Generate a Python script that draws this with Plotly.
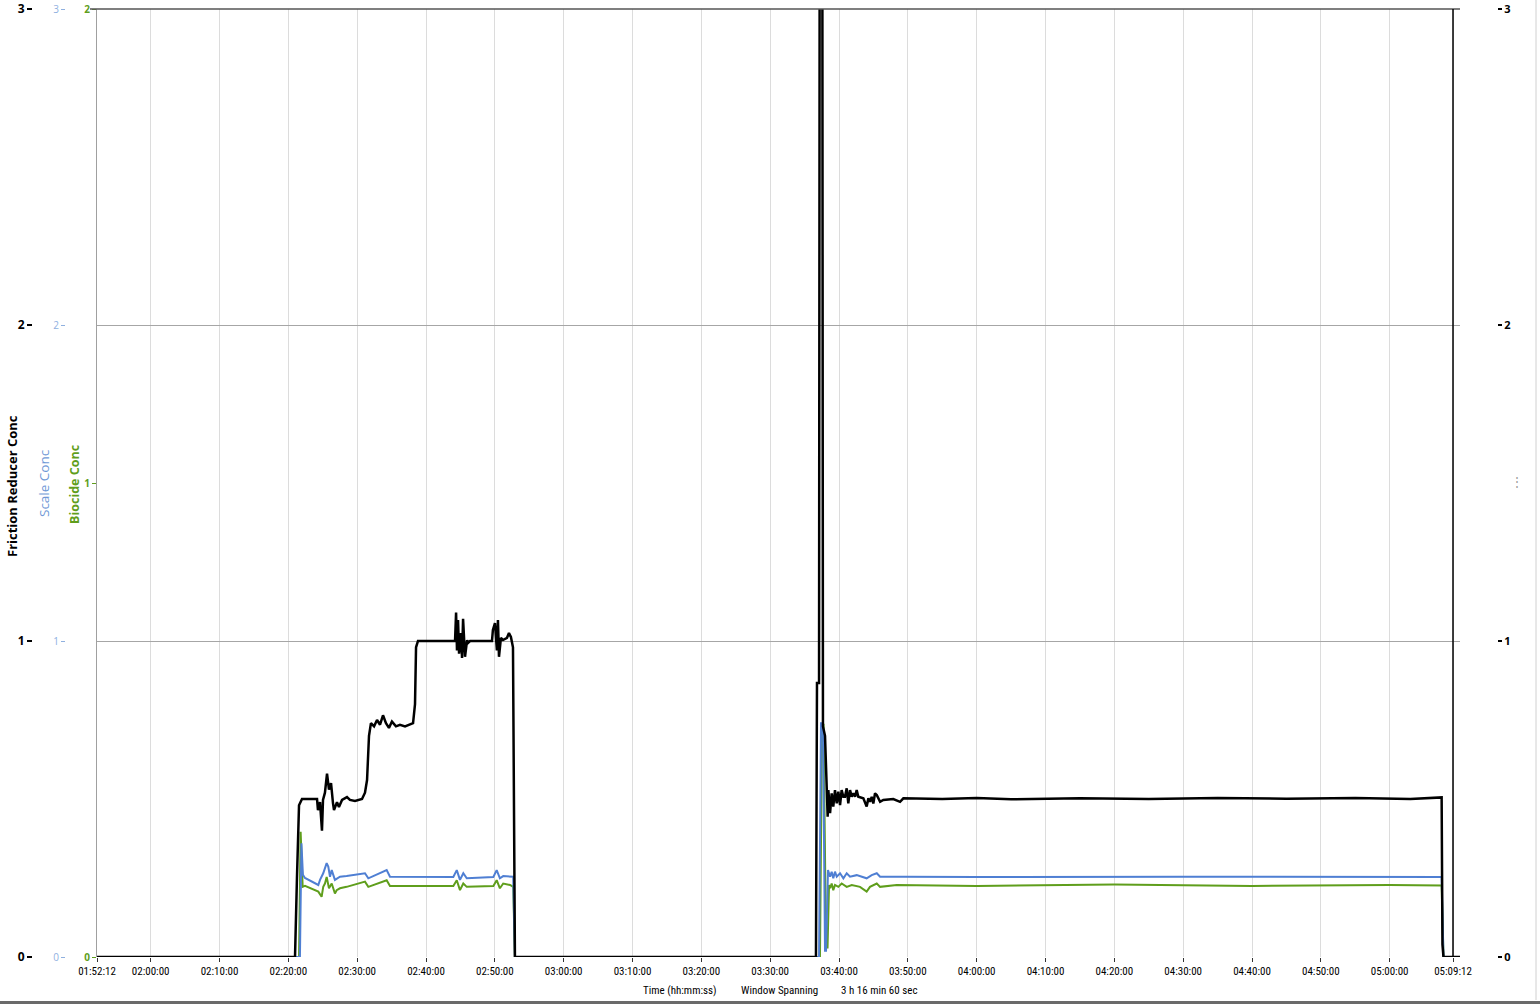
import plotly.graph_objects as go
import pandas as pd

# ---------------- data ----------------
DAY = "2000-01-01 "
start_time = "01:52:12"
end_time = "05:09:12"
frame_end = "05:10:13"

tick_times = ["01:52:12", "02:00:00", "02:10:00", "02:20:00", "02:30:00", "02:40:00",
              "02:50:00", "03:00:00", "03:10:00", "03:20:00", "03:30:00", "03:40:00",
              "03:50:00", "04:00:00", "04:10:00", "04:20:00", "04:30:00", "04:40:00",
              "04:50:00", "05:00:00", "05:09:12"]

fr_time = ["01:52:12", "02:20:58", "02:21:15", "02:21:33", "02:21:59", "02:24:10", "02:24:18",
           "02:24:36", "02:24:53", "02:25:02", "02:25:19", "02:25:37", "02:25:54", "02:26:12",
           "02:26:29", "02:26:38", "02:27:04", "02:27:21", "02:27:48", "02:28:31", "02:28:57",
           "02:29:41", "02:30:42", "02:31:08", "02:31:26", "02:31:34", "02:31:43", "02:32:00",
           "02:32:27", "02:32:53", "02:33:19", "02:33:45", "02:34:11", "02:34:37", "02:35:03",
           "02:35:38", "02:36:13", "02:36:57", "02:37:40", "02:38:07", "02:38:24", "02:38:33",
           "02:38:50", "02:44:13", "02:44:22", "02:44:30", "02:44:39", "02:44:48", "02:45:05",
           "02:45:14", "02:45:23", "02:45:40", "02:45:58", "02:46:06", "02:46:24", "02:49:35",
           "02:49:43", "02:50:01", "02:50:18", "02:50:27", "02:50:36", "02:50:53", "02:51:11",
           "02:51:46", "02:52:03", "02:52:20", "02:52:38", "02:52:55", "03:36:39", "03:36:48",
           "03:37:06", "03:37:12", "03:37:34", "03:37:40", "03:37:58", "03:38:13", "03:38:21",
           "03:38:27", "03:38:42", "03:38:56", "03:39:10", "03:39:25", "03:39:40", "03:39:54",
           "03:40:09", "03:40:23", "03:40:38", "03:40:52", "03:41:07", "03:41:21", "03:41:36",
           "03:41:51", "03:42:05", "03:42:20", "03:42:34", "03:42:48", "03:43:32", "03:44:01",
           "03:44:16", "03:44:30", "03:44:45", "03:44:59", "03:45:14", "03:45:29", "03:45:58",
           "03:46:26", "03:47:53", "03:48:52", "03:49:21", "03:55:00", "04:00:00", "04:05:00",
           "04:15:00", "04:25:00", "04:35:00", "04:45:00", "04:55:00", "05:03:00", "05:07:00",
           "05:07:33", "05:07:40", "05:07:49", "05:10:13"]
fr_conc = [0, 0, 0.25, 0.48, 0.50, 0.50, 0.465,
           0.49, 0.40, 0.497, 0.52, 0.58, 0.53, 0.55,
           0.487, 0.465, 0.49, 0.475, 0.497, 0.506, 0.497,
           0.494, 0.50, 0.52, 0.56, 0.62, 0.70, 0.74,
           0.73, 0.75, 0.735, 0.765, 0.74, 0.725, 0.745,
           0.73, 0.735, 0.73, 0.735, 0.74, 0.80, 0.98,
           1.0, 1.0, 1.09, 0.97, 1.066, 0.96, 1.025,
           0.946, 1.07, 0.95, 1.003, 0.994, 1.0, 1.0,
           1.035, 1.057, 0.97, 1.066, 0.95, 1.01, 1.003,
           1.01, 1.025, 1.013, 0.98, 0.0, 0.0, 0.867,
           0.867, 3.5, 3.5, 0.73, 0.70, 0.54, 0.444,
           0.528, 0.455, 0.518, 0.476, 0.528, 0.486, 0.523,
           0.481, 0.528, 0.507, 0.507, 0.534, 0.486, 0.528,
           0.507, 0.518, 0.507, 0.528, 0.507, 0.502, 0.476,
           0.502, 0.491, 0.507, 0.486, 0.518, 0.513, 0.491,
           0.497, 0.500, 0.491, 0.502, 0.500, 0.503, 0.499,
           0.502, 0.500, 0.503, 0.501, 0.503, 0.500, 0.505,
           0.505, 0.04, 0.0, 0.0]

scale_time = ["01:52:12", "02:21:41", "02:21:54", "02:22:07", "02:22:25", "02:24:21", "02:24:36",
              "02:25:04", "02:25:34", "02:25:48", "02:26:03", "02:26:18", "02:26:46", "02:27:30",
              "02:28:28", "02:31:08", "02:31:37", "02:34:17", "02:34:46", "02:38:09", "02:43:58",
              "02:44:28", "02:44:56", "02:45:25", "02:45:55", "02:49:47", "02:50:16", "02:50:44",
              "02:51:13", "02:52:40", "02:52:55", "03:37:06", "03:37:23", "03:37:40", "03:37:58",
              "03:38:07", "03:38:24", "03:38:42", "03:38:56", "03:39:10", "03:39:25", "03:39:40",
              "03:40:09", "03:40:38", "03:41:07", "03:41:36", "03:42:34", "03:44:01", "03:44:45",
              "03:45:29", "03:45:58", "03:49:21", "04:00:00", "04:30:00", "05:00:00", "05:07:33",
              "05:07:49", "05:10:13"]
scale_conc = [0, 0, 0.36, 0.26, 0.25, 0.228, 0.244,
              0.265, 0.297, 0.286, 0.254, 0.275, 0.244, 0.254,
              0.256, 0.265, 0.249, 0.275, 0.254, 0.253, 0.253,
              0.275, 0.244, 0.265, 0.249, 0.253, 0.275, 0.249,
              0.256, 0.254, 0, 0, 0.74, 0.74, 0.02,
              0.02, 0.275, 0.254, 0.270, 0.249, 0.270, 0.254,
              0.265, 0.249, 0.265, 0.254, 0.259, 0.249, 0.259,
              0.265, 0.254, 0.254, 0.253, 0.254, 0.253, 0.253,
              0, 0]

biocide_time = ["01:52:12", "02:21:33", "02:21:47", "02:22:05", "02:22:25", "02:24:21", "02:24:50",
                "02:25:04", "02:25:19", "02:25:34", "02:25:54", "02:26:18", "02:26:46", "02:27:01",
                "02:27:30", "02:28:28", "02:31:08", "02:31:37", "02:34:17", "02:34:46", "02:38:09",
                "02:43:58", "02:44:28", "02:44:56", "02:45:25", "02:45:55", "02:49:47", "02:50:16",
                "02:50:44", "02:51:13", "02:52:12", "02:52:40", "02:52:55", "03:37:14", "03:37:32",
                "03:37:45", "03:38:07", "03:38:20", "03:38:33", "03:38:42", "03:38:56", "03:39:10",
                "03:39:25", "03:39:54", "03:40:23", "03:41:07", "03:41:51", "03:43:03", "03:44:01",
                "03:44:30", "03:45:29", "03:45:58", "03:48:23", "04:00:00", "04:20:00", "04:40:00",
                "05:00:00", "05:07:33", "05:07:49", "05:10:13"]
biocide_conc = [0, 0, 0.264, 0.148, 0.150, 0.138, 0.127,
                0.148, 0.155, 0.169, 0.145, 0.155, 0.134, 0.141,
                0.145, 0.148, 0.159, 0.148, 0.162, 0.150, 0.150,
                0.150, 0.162, 0.141, 0.155, 0.148, 0.150, 0.162,
                0.145, 0.155, 0.152, 0.148, 0, 0, 0.49,
                0.49, 0.02, 0.02, 0.152, 0.145, 0.155, 0.141,
                0.152, 0.148, 0.155, 0.148, 0.152, 0.148, 0.138,
                0.148, 0.155, 0.148, 0.152, 0.150, 0.153, 0.150,
                0.152, 0.151, 0, 0]

# ---------------- styling ----------------
BLACK = "#000000"
BLUE = "#4f7fd3"
BLUE_LIGHT = "#8fb0df"
GREEN = "#5f9e1c"
NARROW = "Liberation Sans Narrow, Arial Narrow, Roboto Condensed, Liberation Sans, sans-serif"
W, H = 1540, 1005


def ts(lst):
    return pd.to_datetime([DAY + t for t in lst])


fig = go.Figure()
# base axis (right-hand scale + gridlines) carrier, no data of its own
fig.add_trace(go.Scatter(x=[], y=[], yaxis="y", mode="lines", showlegend=False,
                         hoverinfo="skip"))
fig.add_trace(go.Scatter(x=ts(biocide_time), y=biocide_conc, yaxis="y2", mode="lines",
                         line=dict(color=GREEN, width=2), name="Biocide Conc"))
fig.add_trace(go.Scatter(x=ts(scale_time), y=scale_conc, yaxis="y3", mode="lines",
                         line=dict(color=BLUE, width=2), name="Scale Conc"))
fig.add_trace(go.Scatter(x=ts(fr_time), y=fr_conc, yaxis="y4", mode="lines",
                         line=dict(color=BLACK, width=2.5), name="Friction Reducer Conc"))

x0 = 97 / W
x1 = 1460 / W

fig.update_layout(
    width=W, height=H,
    margin=dict(l=0, r=0, t=9, b=48),
    paper_bgcolor="white", plot_bgcolor="white",
    showlegend=False,
    xaxis=dict(
        domain=[x0, x1], type="date",
        range=[DAY + start_time, DAY + frame_end],
        tickvals=ts(tick_times), ticktext=tick_times,
        ticks="outside", ticklen=4, tickwidth=1, tickcolor="#333",
        showgrid=True, gridcolor="#dcdcdc", gridwidth=1,
        zeroline=False, showline=False,
        tickfont=dict(family=NARROW, size=11, color="#000000"),
        anchor="y2", automargin=False,
    ),
    # right-hand scale, also provides the horizontal gridlines
    yaxis=dict(
        domain=[0, 1], range=[0, 3], dtick=1, anchor="free", position=1497 / W, side="right",
        showgrid=True, gridcolor="#a6a6a6", gridwidth=1,
        ticks="outside", ticklen=4, tickwidth=1.5, tickcolor=BLACK,
        tickfont=dict(family="Open Sans, sans-serif", size=11, color=BLACK, weight="bold"),
        zeroline=False, showline=False, automargin=False,
    ),
    # Biocide Conc (green), at the plot edge
    yaxis2=dict(
        overlaying="y", anchor="x", side="left",
        range=[0, 2], dtick=1, ticks="outside", ticklen=4, tickwidth=1, tickcolor=GREEN,
        tickfont=dict(family="Open Sans, sans-serif", size=10, color=GREEN, weight="bold"),
        showgrid=False, showline=True, linecolor="#a0a0a0", linewidth=1,
        zeroline=False, automargin=False,
    ),
    # Scale Conc (blue)
    yaxis3=dict(
        overlaying="y", anchor="free", position=65 / W, side="left",
        range=[0, 3], dtick=1, ticks="outside", ticklen=4, tickwidth=1, tickcolor=BLUE_LIGHT,
        tickfont=dict(family="Open Sans, sans-serif", size=10, color=BLUE_LIGHT),
        showgrid=False, showline=False, zeroline=False, automargin=False,
    ),
    # Friction Reducer Conc (black)
    yaxis4=dict(
        overlaying="y", anchor="free", position=32 / W, side="left",
        range=[0, 3], dtick=1, ticks="outside", ticklen=5, tickwidth=2, tickcolor=BLACK,
        tickfont=dict(family="Open Sans, sans-serif", size=12, color=BLACK, weight="bold"),
        showgrid=False, showline=False, zeroline=False, automargin=False,
    ),
)

pH = H - 9 - 48


def py(pix):
    return (957 - pix) / pH


annots = [
    dict(text="Friction Reducer Conc", x=12 / W, y=py(486), textangle=-90,
         font=dict(family="Open Sans, sans-serif", size=13, color=BLACK, weight="bold")),
    dict(text="Scale Conc", x=44 / W, y=py(483), textangle=-90,
         font=dict(family="Open Sans, sans-serif", size=13.5, color="#6f98d6")),
    dict(text="Biocide Conc", x=75 / W, y=py(484), textangle=-90,
         font=dict(family="Open Sans, sans-serif", size=12.5, color=GREEN, weight="bold")),
    dict(text="Time (hh:mm:ss)", x=680 / W, y=py(991),
         font=dict(family=NARROW, size=11, color="#000000")),
    dict(text="Window Spanning", x=779 / W, y=py(991),
         font=dict(family=NARROW, size=11, color="#000000")),
    dict(text="3 h 16 min 60 sec", x=879 / W, y=py(991),
         font=dict(family=NARROW, size=11, color="#000000")),
    dict(text="⋮", x=1517 / W, y=py(482),
         font=dict(size=12, color="#9a9a9a")),
]
for a in annots:
    a.update(xref="paper", yref="paper", showarrow=False, xanchor="center", yanchor="middle")
fig.update_layout(annotations=annots)

fig.update_layout(shapes=[
    dict(type="line", xref="paper", yref="paper", x0=90 / W, x1=x1, y0=1, y1=1,
         line=dict(color="#555555", width=1.5)),
    dict(type="line", xref="x", yref="paper", x0=ts([end_time])[0], x1=ts([end_time])[0],
         y0=0, y1=1, line=dict(color=BLACK, width=1.5)),
    dict(type="line", xref="paper", yref="paper", x0=0, x1=1, y0=py(1002.5), y1=py(1002.5),
         line=dict(color="#6a6a6a", width=3)),
    dict(type="line", xref="paper", yref="paper", x0=1536 / W, x1=1536 / W, y0=py(1000), y1=py(0),
         line=dict(color="#d0d0d0", width=1)),
])

fig.write_html("out.html", config={"displayModeBar": False},
               post_script="document.body.style.margin='0';")
